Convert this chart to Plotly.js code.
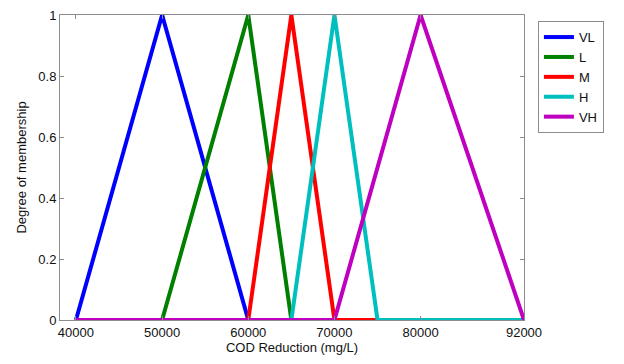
<!DOCTYPE html>
<html>
<head>
<meta charset="utf-8">
<script src="https://cdn.plot.ly/plotly-3.0.1.min.js"></script>
<style>
  html, body { margin: 0; padding: 0; background: #fff; }
  #chart { width: 624px; height: 364px; }
</style>
</head>
<body>
<div id="chart"></div>
<script>
// Triangular membership functions for COD reduction (mg/L)
const labels = ['VL', 'L', 'M', 'H', 'VH'];
const colors = ['#0000ff', '#008000', '#ff0000', '#00bfbf', '#bf00bf'];

const vlX = [40000, 50000, 60000, 92000];
const vlY = [0, 1, 0, 0];
const lX = [40000, 50000, 60000, 65000, 92000];
const lY = [0, 0, 1, 0, 0];
const mX = [40000, 60000, 65000, 70000, 92000];
const mY = [0, 0, 1, 0, 0];
const hX = [40000, 65000, 70000, 75000, 92000];
const hY = [0, 0, 1, 0, 0];
const vhX = [40000, 70000, 80000, 92000];
const vhY = [0, 0, 1, 0];

const xTicks = [40000, 50000, 60000, 70000, 80000, 92000];
const yTicks = [0, 0.2, 0.4, 0.6, 0.8, 1];

const xs = [vlX, lX, mX, hX, vhX];
const ys = [vlY, lY, mY, hY, vhY];

const traces = labels.map((name, i) => ({
  type: 'scatter',
  mode: 'lines',
  name: name,
  x: xs[i],
  y: ys[i],
  line: { color: colors[i], width: 4 },
  cliponaxis: true
}));

const axisStyle = {
  showline: true,
  linecolor: '#8c8c8c',
  linewidth: 1,
  mirror: 'ticks',
  ticks: 'inside',
  ticklen: 4,
  tickcolor: '#8c8c8c',
  showgrid: false,
  zeroline: false,
  tickfont: { family: 'Liberation Sans, Arial, sans-serif', size: 13, color: '#111' }
};

const layout = {
  width: 624,
  height: 364,
  margin: { l: 60, r: 100, t: 15, b: 44 },
  paper_bgcolor: '#fff',
  plot_bgcolor: '#fff',
  showlegend: true,
  legend: {
    x: 1.03, xanchor: 'left',
    y: 0.98, yanchor: 'top',
    bordercolor: '#8c8c8c',
    borderwidth: 1,
    bgcolor: '#fff',
    tracegroupgap: 0,
    font: { family: 'Liberation Sans, Arial, sans-serif', size: 13, color: '#111' }
  },
  xaxis: Object.assign({}, axisStyle, {
    range: [38150, 92000],
    tickmode: 'array',
    tickvals: xTicks,
    ticktext: xTicks.map(String),
    title: { text: 'COD Reduction (mg/L)', standoff: 4,
             font: { family: 'Liberation Sans, Arial, sans-serif', size: 13, color: '#111' } }
  }),
  yaxis: Object.assign({}, axisStyle, {
    range: [0, 1],
    tickmode: 'array',
    tickvals: yTicks,
    ticktext: yTicks.map(String),
    title: { text: 'Degree of membership', standoff: 8,
             font: { family: 'Liberation Sans, Arial, sans-serif', size: 13, color: '#111' } }
  })
};

Plotly.newPlot('chart', traces, layout, { displayModeBar: false, staticPlot: true });
</script>
</body>
</html>
